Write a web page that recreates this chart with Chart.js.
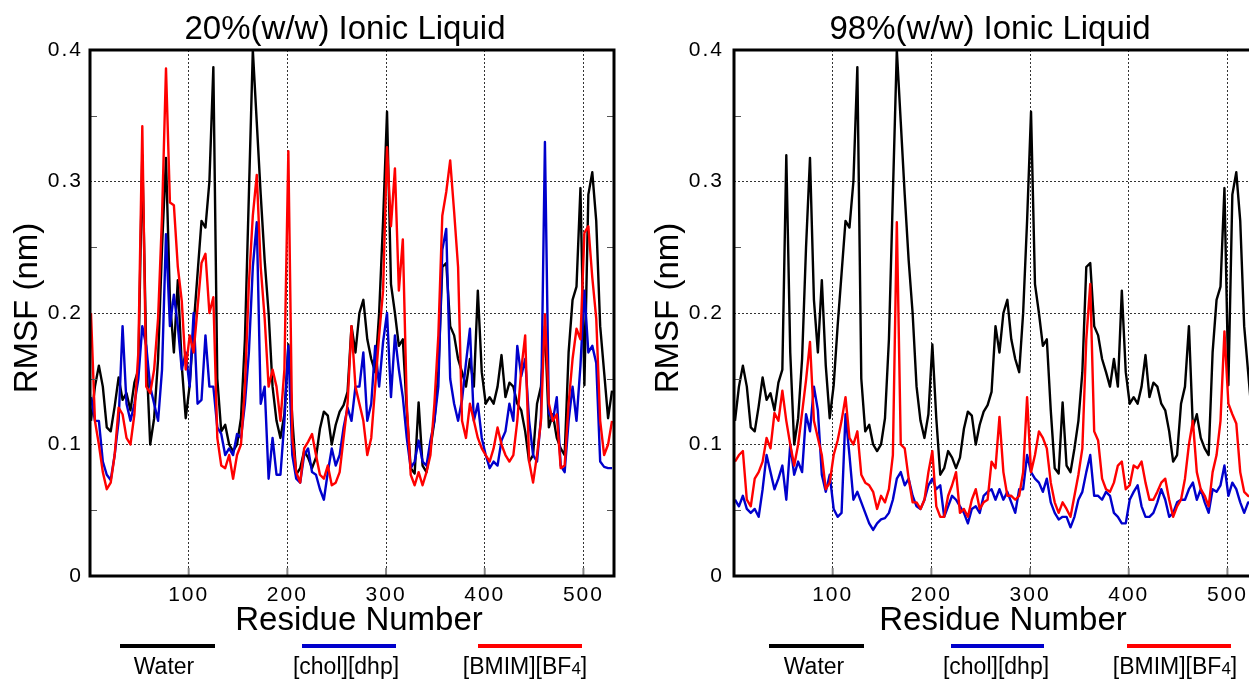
<!DOCTYPE html>
<html>
<head>
<meta charset="utf-8">
<script src="https://cdn.jsdelivr.net/npm/chart.js@4.4.1/dist/chart.umd.min.js"></script>
<style>
html,body{margin:0;padding:0;background:#fff;overflow:hidden;width:1249px;height:680px;}
#wrap{position:relative;width:1249px;height:680px;overflow:hidden;background:#fff;}
.panel{position:absolute;top:0;width:640px;height:680px;}
</style>
</head>
<body>
<div id="wrap">
  <div class="panel" style="left:0px"><canvas id="c1" width="640" height="680"></canvas></div>
  <div class="panel" style="left:644px"><canvas id="c2" width="640" height="680"></canvas></div>
</div>
<script>
// ---------------- DATA ----------------
const panelTitles = ['20%(w/w) Ionic Liquid', '98%(w/w) Ionic Liquid'];
const seriesNames = ['Water', '[chol][dhp]', '[BMIM][BF4]'];
const xTitle = 'Residue Number';
const yTitle = 'RMSF (nm)';
const xTickValues = [100, 200, 300, 400, 500];
const yTickValues = [0, 0.1, 0.2, 0.3, 0.4];
const yMinorTicks = [0.05, 0.15, 0.25, 0.35];

const residues = [
  1,5,9,13,17,21,25,29,33,37,41,45,49,53,57,61,65,69,73,77,81,85,89,93,97,
  101,105,109,113,117,121,125,129,133,137,141,145,149,153,157,161,165,169,173,177,181,185,189,193,197,
  201,205,209,213,217,221,225,229,233,237,241,245,249,253,257,261,265,269,273,277,281,285,289,293,297,
  301,305,309,313,317,321,325,329,333,337,341,345,349,353,357,361,365,369,373,377,381,385,389,393,397,
  401,405,409,413,417,421,425,429,433,437,441,445,449,453,457,461,465,469,473,477,481,485,489,493,497,
  501,505,509,513,517,521,525,529
];

// Water (same reference curve in both panels)
const water = [
  0.118,0.144,0.160,0.144,0.113,0.110,0.129,0.151,0.134,0.139,0.126,0.147,0.157,0.320,0.170,0.100,0.120,0.165,0.250,0.318,0.210,0.170,0.225,0.160,0.120,
  0.145,0.190,0.230,0.270,0.265,0.300,0.387,0.150,0.110,0.115,0.100,0.095,0.100,0.120,0.180,0.290,0.400,0.345,0.290,0.240,0.200,0.144,0.118,0.105,0.123,
  0.176,0.120,0.077,0.082,0.095,0.090,0.082,0.090,0.112,0.125,0.122,0.100,0.115,0.125,0.130,0.140,0.190,0.170,0.200,0.210,0.180,0.165,0.155,0.200,0.270,
  0.353,0.222,0.200,0.175,0.180,0.126,0.082,0.078,0.132,0.084,0.079,0.097,0.118,0.155,0.235,0.238,0.190,0.183,0.165,0.155,0.144,0.165,0.144,0.217,0.155,
  0.131,0.136,0.131,0.144,0.168,0.136,0.147,0.144,0.131,0.126,0.110,0.087,0.092,0.131,0.144,0.190,0.113,0.123,0.105,0.097,0.092,0.170,0.210,0.220,0.295,
  0.145,0.290,0.307,0.270,0.190,0.155,0.120,0.141
];

// 20% (w/w) ionic liquid
const chol20 = [
  0.136,0.118,0.118,0.087,0.077,0.073,0.092,0.118,0.190,0.131,0.118,0.131,0.150,0.190,0.175,0.144,0.131,0.118,0.157,0.260,0.190,0.214,0.190,0.157,0.170,
  0.144,0.200,0.131,0.134,0.183,0.144,0.144,0.113,0.108,0.092,0.097,0.092,0.108,0.105,0.131,0.170,0.235,0.269,0.131,0.144,0.074,0.105,0.077,0.077,0.118,
  0.175,0.092,0.074,0.071,0.092,0.097,0.079,0.077,0.066,0.058,0.079,0.097,0.084,0.092,0.113,0.128,0.118,0.144,0.144,0.170,0.118,0.131,0.175,0.144,0.178,
  0.200,0.136,0.183,0.157,0.136,0.105,0.082,0.087,0.103,0.087,0.084,0.103,0.118,0.144,0.248,0.264,0.150,0.131,0.118,0.134,0.162,0.188,0.118,0.131,0.105,
  0.092,0.082,0.087,0.084,0.103,0.110,0.131,0.118,0.175,0.152,0.165,0.118,0.092,0.087,0.120,0.330,0.124,0.118,0.136,0.084,0.079,0.118,0.144,0.118,0.160,
  0.217,0.170,0.175,0.162,0.087,0.083,0.082,0.082
];
const bmim20 = [
  0.200,0.118,0.100,0.079,0.066,0.071,0.092,0.128,0.123,0.105,0.100,0.123,0.170,0.342,0.144,0.139,0.157,0.196,0.274,0.386,0.284,0.282,0.235,0.209,0.157,
  0.183,0.170,0.204,0.238,0.245,0.200,0.212,0.105,0.084,0.082,0.092,0.074,0.092,0.100,0.144,0.222,0.274,0.305,0.235,0.196,0.144,0.157,0.144,0.118,0.157,
  0.323,0.105,0.079,0.071,0.097,0.102,0.108,0.092,0.077,0.074,0.084,0.069,0.071,0.079,0.105,0.131,0.190,0.144,0.131,0.118,0.092,0.105,0.144,0.183,0.217,
  0.326,0.266,0.310,0.217,0.256,0.131,0.077,0.069,0.079,0.069,0.079,0.092,0.131,0.183,0.274,0.292,0.316,0.277,0.235,0.118,0.105,0.131,0.118,0.105,0.097,
  0.092,0.087,0.097,0.113,0.100,0.092,0.087,0.092,0.118,0.157,0.183,0.087,0.071,0.092,0.118,0.199,0.131,0.118,0.123,0.082,0.084,0.131,0.165,0.188,0.180,
  0.261,0.266,0.227,0.196,0.118,0.092,0.100,0.118
];

// 98% (w/w) ionic liquid
const chol98 = [
  0.058,0.053,0.061,0.051,0.048,0.051,0.045,0.066,0.092,0.079,0.066,0.074,0.084,0.058,0.100,0.077,0.087,0.079,0.123,0.110,0.144,0.126,0.077,0.064,0.077,
  0.051,0.045,0.048,0.123,0.092,0.058,0.064,0.056,0.048,0.040,0.035,0.040,0.043,0.044,0.048,0.058,0.074,0.079,0.069,0.074,0.061,0.053,0.051,0.058,0.069,
  0.074,0.066,0.069,0.045,0.053,0.061,0.058,0.053,0.048,0.040,0.051,0.053,0.048,0.061,0.064,0.066,0.058,0.066,0.058,0.064,0.056,0.048,0.066,0.066,0.092,
  0.079,0.074,0.071,0.064,0.074,0.056,0.048,0.043,0.045,0.045,0.037,0.045,0.058,0.064,0.079,0.092,0.061,0.061,0.058,0.064,0.061,0.048,0.045,0.040,0.040,
  0.058,0.064,0.069,0.053,0.045,0.045,0.048,0.056,0.066,0.058,0.045,0.048,0.056,0.058,0.058,0.066,0.071,0.058,0.066,0.056,0.048,0.066,0.064,0.069,0.084,
  0.061,0.071,0.066,0.056,0.048,0.056,0.055,0.056
];
const bmim98 = [
  0.087,0.092,0.095,0.058,0.053,0.074,0.079,0.087,0.105,0.097,0.124,0.118,0.141,0.118,0.100,0.084,0.100,0.124,0.149,0.178,0.118,0.105,0.092,0.066,0.071,
  0.092,0.103,0.118,0.136,0.105,0.100,0.110,0.077,0.071,0.069,0.064,0.051,0.061,0.056,0.066,0.092,0.269,0.100,0.097,0.074,0.056,0.056,0.051,0.058,0.079,
  0.095,0.053,0.045,0.045,0.061,0.069,0.079,0.048,0.051,0.045,0.058,0.066,0.051,0.056,0.058,0.087,0.082,0.121,0.079,0.061,0.061,0.058,0.061,0.079,0.136,
  0.079,0.092,0.110,0.105,0.097,0.071,0.056,0.048,0.056,0.051,0.045,0.061,0.077,0.097,0.180,0.222,0.110,0.103,0.074,0.066,0.064,0.071,0.084,0.087,0.066,
  0.069,0.084,0.082,0.087,0.071,0.058,0.058,0.064,0.071,0.074,0.058,0.045,0.053,0.058,0.074,0.100,0.118,0.079,0.066,0.061,0.053,0.079,0.092,0.118,0.186,
  0.131,0.123,0.116,0.079,0.064,0.061,0.060,0.060
];

// ---------------- STYLE ----------------
const seriesColors = ['#000000', '#0000cc', '#ff0000'];
const FONT = '"Liberation Sans", Arial, Helvetica, sans-serif';

function toPoints(vals) { return residues.map((r, i) => ({ x: r, y: vals[i] })); }

const decorPlugin = {
  id: 'decor',
  beforeDraw(chart) { chart.ctx.letterSpacing = '2px'; },
  afterDraw(chart, args, o) {
    const { ctx, chartArea: a, scales: { x, y } } = chart;
    ctx.save();
    ctx.letterSpacing = '0px';
    // inner minor ticks on left/right
    ctx.strokeStyle = '#555';
    ctx.lineWidth = 1;
    yMinorTicks.forEach(v => {
      const py = Math.round(y.getPixelForValue(v)) + 0.5;
      ctx.beginPath();
      ctx.moveTo(a.left, py); ctx.lineTo(a.left + 7, py);
      ctx.moveTo(a.right, py); ctx.lineTo(a.right - 7, py);
      ctx.stroke();
    });
    // inner ticks at bottom
    ctx.strokeStyle = '#888';
    ctx.lineWidth = 2;
    xTickValues.forEach(v => {
      const px = x.getPixelForValue(v);
      ctx.beginPath(); ctx.moveTo(px, a.bottom); ctx.lineTo(px, a.bottom - 8); ctx.stroke();
    });
    // frame
    ctx.strokeStyle = '#000';
    ctx.lineWidth = 3;
    ctx.strokeRect(a.left, a.top, a.right - a.left, a.bottom - a.top);

    // titles
    ctx.fillStyle = '#000';
    ctx.textBaseline = 'alphabetic';
    ctx.textAlign = 'center';
    ctx.font = '33px ' + FONT;
    ctx.fillText(o.title, o.titleX, 39);
    ctx.font = '33px ' + FONT;
    ctx.fillText(xTitle, o.xTitleX, 630);
    ctx.save();
    ctx.translate(o.yTitleX, o.yTitleY);
    ctx.rotate(-Math.PI / 2);
    ctx.font = '33px ' + FONT;
    ctx.fillText(yTitle, 0, 0);
    ctx.restore();

    // legend
    seriesNames.forEach((name, i) => {
      const [x0, x1] = o.legendLines[i];
      ctx.strokeStyle = seriesColors[i];
      ctx.lineWidth = 4;
      ctx.beginPath(); ctx.moveTo(x0, 646); ctx.lineTo(x1, 646); ctx.stroke();
      const cx = o.legendText[i];
      const m = name.match(/^(.*?)(\d)(\]?)$/);
      ctx.textAlign = 'left';
      if (m) {
        ctx.font = '23px ' + FONT; const w1 = ctx.measureText(m[1]).width; const w3 = ctx.measureText(m[3]).width;
        ctx.font = '17px ' + FONT; const w2 = ctx.measureText(m[2]).width;
        let sx = cx - (w1 + w2 + w3) / 2;
        ctx.font = '23px ' + FONT; ctx.fillText(m[1], sx, 674);
        ctx.font = '17px ' + FONT; ctx.fillText(m[2], sx + w1, 674);
        ctx.font = '23px ' + FONT; ctx.fillText(m[3], sx + w1 + w2, 674);
      } else {
        ctx.font = '23px ' + FONT;
        const w = ctx.measureText(name).width;
        ctx.fillText(name, cx - w / 2, 674);
      }
    });
    ctx.restore();
  }
};

function makeChart(canvasId, panel, cholVals, bmimVals, opts) {
  const ctx = document.getElementById(canvasId).getContext('2d');
  return new Chart(ctx, {
    type: 'line',
    data: {
      datasets: [
        { label: seriesNames[0], data: toPoints(water), borderColor: seriesColors[0], order: 3 },
        { label: seriesNames[1], data: toPoints(cholVals), borderColor: seriesColors[1], order: 2 },
        { label: seriesNames[2], data: toPoints(bmimVals), borderColor: seriesColors[2], order: 1 }
      ]
    },
    options: {
      responsive: false,
      animation: false,
      devicePixelRatio: 1,
      layout: { padding: { top: 50, right: 26, bottom: 0, left: 0 } },
      elements: {
        line: { borderWidth: 2.4, tension: 0, fill: false, borderJoinStyle: 'round' },
        point: { radius: 0, hoverRadius: 0 }
      },
      plugins: {
        legend: { display: false },
        tooltip: { enabled: false },
        title: { display: false },
        decor: opts
      },
      scales: {
        x: {
          type: 'linear',
          min: 0,
          max: 531,
          afterBuildTicks: s => { s.ticks = xTickValues.map(v => ({ value: v })); },
          afterFit: s => { s.height = 104; },
          ticks: {
            color: '#000',
            font: { family: FONT, size: 21 },
            padding: 7,
            maxRotation: 0,
            autoSkip: false,
            callback: v => String(v)
          },
          grid: { color: '#333', lineWidth: 1, drawTicks: false },
          border: { display: false, dash: [2, 2] }
        },
        y: {
          type: 'linear',
          min: 0,
          max: 0.4,
          afterBuildTicks: s => { s.ticks = yTickValues.map(v => ({ value: v })); },
          afterFit: s => { s.width = 90; },
          ticks: {
            color: '#000',
            font: { family: FONT, size: 21 },
            padding: opts.yTickPad,
            callback: v => (v === 0 ? '0' : v.toFixed(1))
          },
          grid: { color: '#333', lineWidth: 1, drawTicks: false },
          border: { display: false, dash: [2, 2] }
        }
      }
    },
    plugins: [decorPlugin]
  });
}

makeChart('c1', 0, chol20, bmim20, {
  title: panelTitles[0], titleX: 345, xTitleX: 359, yTitleX: 37, yTitleY: 308, yTickPad: 7,
  legendLines: [[120, 215], [302, 396], [478, 582]],
  legendText: [164, 346, 525]
});
makeChart('c2', 1, chol98, bmim98, {
  title: panelTitles[1], titleX: 346, xTitleX: 359, yTitleX: 34, yTitleY: 308, yTickPad: 10,
  legendLines: [[125, 220], [307, 400], [483, 587]],
  legendText: [170, 352, 531]
});
</script>
</body>
</html>
